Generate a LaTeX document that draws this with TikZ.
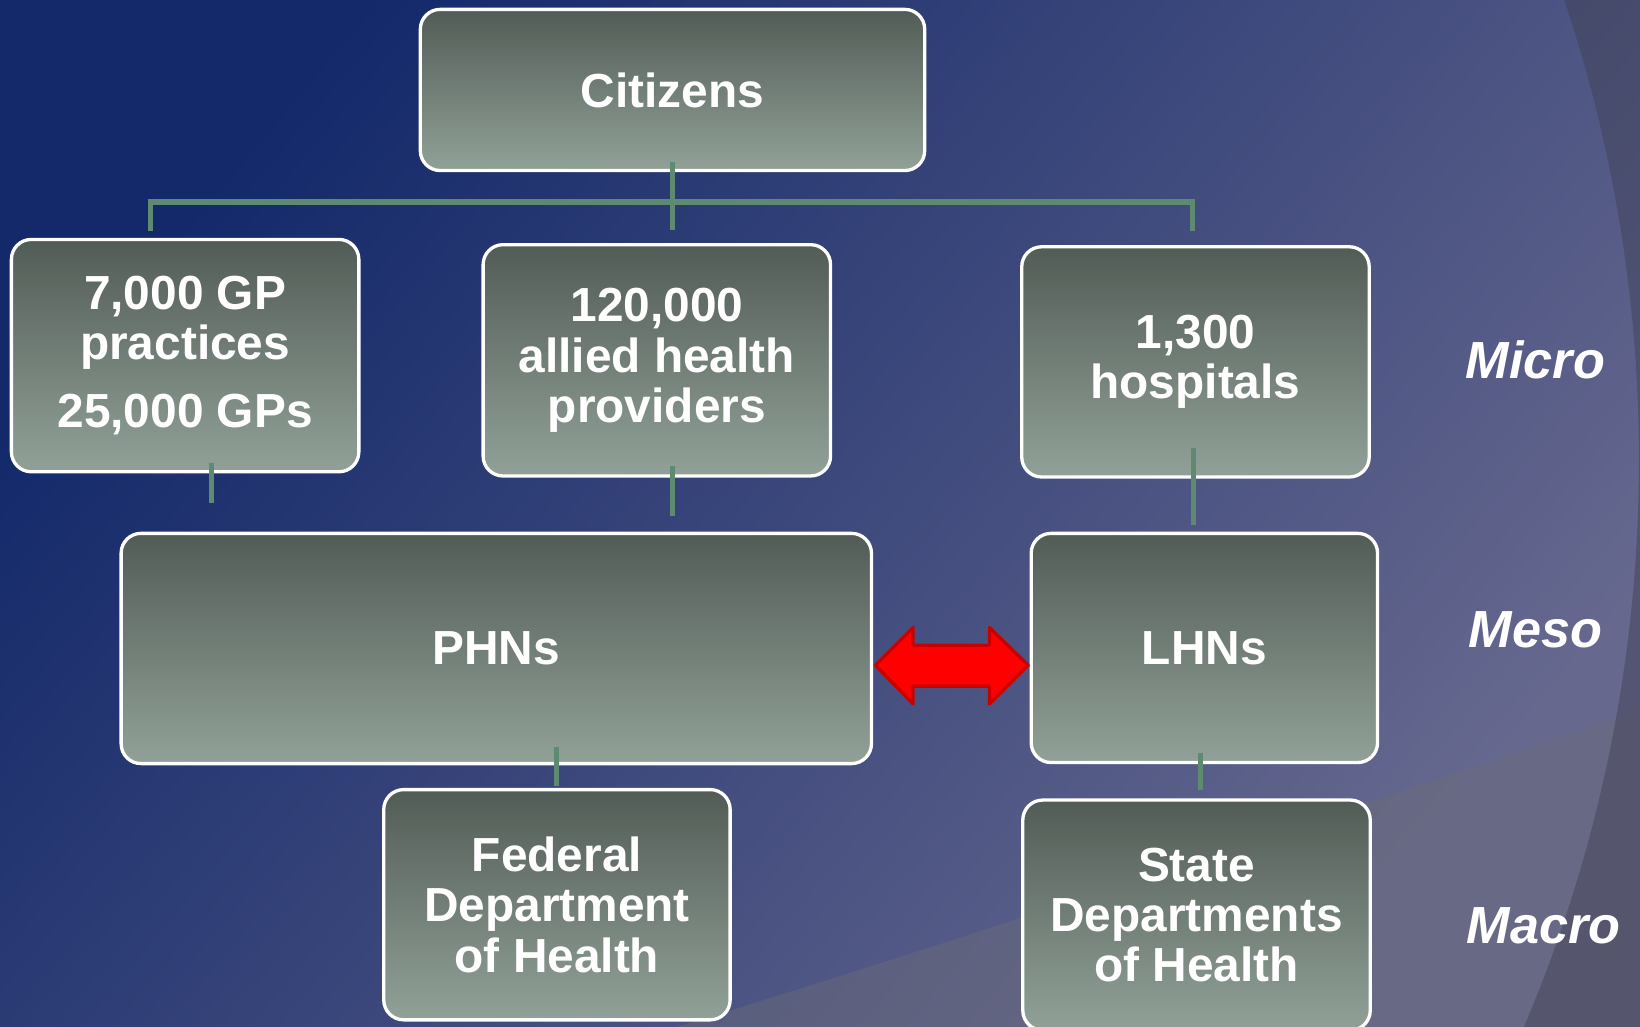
\documentclass[tikz,border=0pt]{standalone}
\usepackage{fontspec}
\setmainfont{Liberation Sans}
\definecolor{bgA}{HTML}{13296A}
\definecolor{bgB}{HTML}{66688E}
\definecolor{boxtop}{HTML}{525C56}
\definecolor{boxbot}{HTML}{91A198}
\definecolor{connc}{HTML}{5F8A72}
\definecolor{arrowred}{HTML}{FF0000}
\definecolor{arrowedge}{HTML}{C80000}
\definecolor{outerc}{HTML}{3E3F52}
\definecolor{lowerc}{HTML}{6C6C78}
\begin{document}
\begin{tikzpicture}[x=0.01cm,y=-0.01cm,
  box/.style={draw=white, line width=0.9pt, rounded corners=0.19cm,
    top color=boxtop, bottom color=boxbot, text=white, align=center, inner sep=0pt,
    font=\bfseries\fontsize{13}{13.66}\selectfont},
  connline/.style={draw=connc, line width=1.45pt, line join=miter},
  lvl/.style={text=white, font=\bfseries\itshape\fontsize{14.2}{15}\selectfont, inner sep=0pt},
  redarrow/.style={fill=arrowred, draw=arrowedge, line width=0.9pt, line join=round}]
\useasboundingbox (0,0) rectangle (1568,981);
% background
\shade[left color=bgA, right color=bgB, shading angle=50] (0,0) rectangle (1568,981);
\begin{scope}
  \clip (0,0) rectangle (1568,981);
  \fill[lowerc, opacity=0.45] (620,990) .. controls (950,890) and (1300,770) .. (1600,668) -- (1600,1000) -- cycle;
  \fill[outerc, opacity=0.45, even odd rule] (-10,-10) rectangle (1600,1000) (182,440) circle (1385);
\end{scope}
% boxes
\node[box, minimum width=4.82cm, minimum height=1.54cm] (cit) at (643,86) {Citizens};
\node[box, minimum width=3.32cm, minimum height=2.22cm] (gp) at (177,340) {7,000 GP\\practices\\[4.8pt]25,000 GPs};
\node[box, minimum width=3.32cm, minimum height=2.21cm] (ah) at (628,344.5) {120,000\\allied health\\providers};
\node[box, minimum width=3.32cm, minimum height=2.20cm] (hosp) at (1143,346) {1,300\\hospitals};
\node[box, minimum width=7.17cm, minimum height=2.20cm] (phn) at (474.5,620) {PHNs};
\node[box, minimum width=3.31cm, minimum height=2.19cm] (lhn) at (1151.5,619.5) {LHNs};
\node[box, minimum width=3.31cm, minimum height=2.20cm] (fed) at (532.5,865) {Federal\\Department\\of Health};
\node[box, minimum width=3.32cm, minimum height=2.20cm] (state) at (1144,875) {State\\Departments\\of Health};
% tree connectors
\coordinate (bus) at (643,193);
\coordinate (gpdrop) at (144,221);
\coordinate (hdrop) at (1140,221);
\draw[connline] ([yshift=0.1cm]cit.south) -- ++(0,65);
\draw[connline] (gpdrop) |- (bus) -| (hdrop);
% stubs
\draw[connline] (gp.south) ++(25,-10) -- ++(0,38);
\draw[connline] (ah.south) ++(15,-11) -- ++(0,48);
\draw[connline] (hosp.south) ++(-2,-29) -- ++(0,73);
\draw[connline] (phn.south) ++(57.5,-17) -- ++(0,37);
\draw[connline] (lhn.south) ++(-3.5,-11) -- ++(0,36);
% red double arrow
\draw[redarrow] (837,636) -- (873,600) -- (873,617) -- (946,617) -- (946,600) -- (983,636)
  -- (946,673) -- (946,656) -- (873,656) -- (873,673) -- cycle;
% level labels
\node[lvl] (micro) at (1468,344) {Micro};
\node[lvl] (meso) at (1468,602) {Meso};
\node[lvl] (macro) at (1476,885) {Macro};
\end{tikzpicture}
\end{document}
